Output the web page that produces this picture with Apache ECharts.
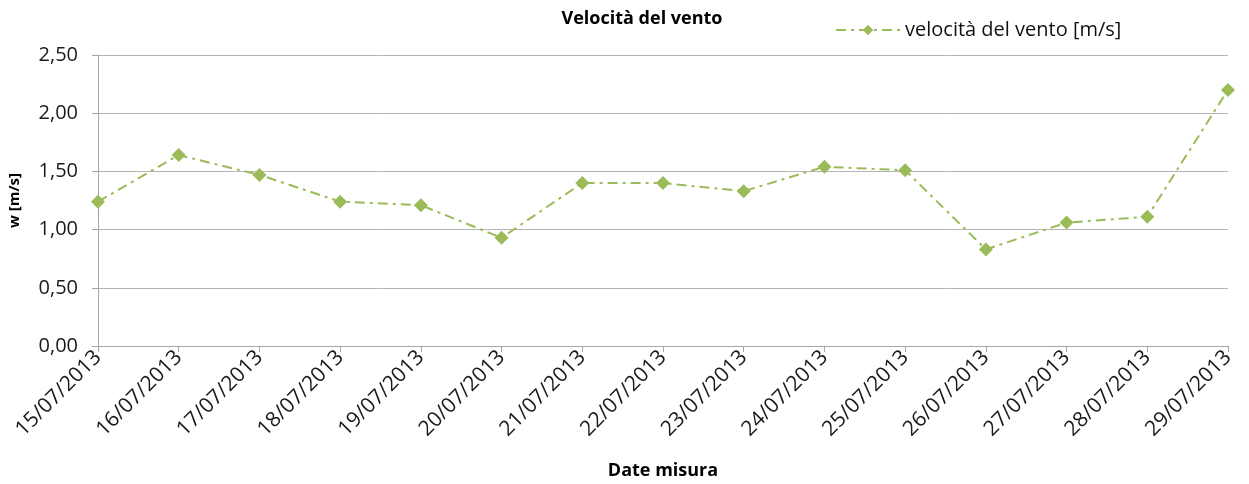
<!DOCTYPE html>
<html>
<head>
<meta charset="utf-8">
<script src="https://cdn.jsdelivr.net/npm/echarts@6/dist/echarts.min.js"></script>
<style>
  html, body { margin: 0; padding: 0; background: #fff; }
  #chart { width: 1249px; height: 484px; }
</style>
</head>
<body>
<div id="chart"></div>
<script>
// dati
const dates = ['15/07/2013', '16/07/2013', '17/07/2013', '18/07/2013', '19/07/2013',
  '20/07/2013', '21/07/2013', '22/07/2013', '23/07/2013', '24/07/2013',
  '25/07/2013', '26/07/2013', '27/07/2013', '28/07/2013', '29/07/2013']
const windSpeed = [1.24, 1.64, 1.47, 1.24, 1.21, 0.93, 1.40, 1.40, 1.33, 1.54, 1.51, 0.83, 1.06, 1.11, 2.20]

const green = '#9bbb59'
const font = "'Open Sans', 'Noto Sans', sans-serif"

const chart = echarts.init(document.getElementById('chart'))
chart.setOption({
  animation: false,
  title: {
    text: 'Velocità del vento',
    left: 637,
    top: 5,
    textAlign: 'center',
    textStyle: { fontSize: 18, fontWeight: 'bold', fontFamily: font, color: '#000' },
  },
  legend: {
    left: 830,
    top: 15,
    itemWidth: 64,
    itemHeight: 13,
    itemGap: 6,
    textStyle: { fontSize: 20, fontFamily: font, color: '#111' },
    data: ['velocità del vento [m/s]'],
  },
  grid: { left: 98, right: 21, top: 55, bottom: 138, containLabel: false, outerBoundsMode: 'none' },
  xAxis: {
    type: 'category',
    data: dates,
    boundaryGap: false,
    name: 'Date misura',
    nameLocation: 'middle',
    nameGap: 116,
    nameTextStyle: { fontSize: 18, fontWeight: 'bold', fontFamily: font, color: '#000' },
    axisLine: { lineStyle: { color: '#a6a6a6', width: 1 } },
    axisTick: { alignWithLabel: true, length: 6, lineStyle: { color: '#a6a6a6' } },
    axisLabel: {
      interval: 0,
      rotate: 45,
      margin: 8,
      fontSize: 21,
      fontFamily: font,
      color: '#1a1a1a',
    },
  },
  yAxis: {
    type: 'value',
    min: 0,
    max: 2.5,
    interval: 0.5,
    name: 'w [m/s]',
    nameLocation: 'middle',
    nameGap: 76,
    nameTextStyle: { fontSize: 15, fontWeight: 'bold', fontFamily: font, color: '#000' },
    axisLine: { show: true, lineStyle: { color: '#a6a6a6' } },
    axisTick: { show: true, length: 6, inside: false, lineStyle: { color: '#a6a6a6' } },
    splitLine: { lineStyle: { color: '#b4b4b4', width: 1 } },
    axisLabel: {
      margin: 20,
      fontSize: 20,
      fontFamily: font,
      color: '#1a1a1a',
      formatter: v => v.toFixed(2).replace('.', ','),
    },
  },
  series: [
    {
      name: 'velocità del vento [m/s]',
      type: 'line',
      data: windSpeed,
      symbol: 'diamond',
      symbolSize: 14,
      itemStyle: { color: green },
      lineStyle: { color: green, width: 2, type: [10, 5, 3, 5] },
    },
  ],
})
</script>
</body>
</html>
